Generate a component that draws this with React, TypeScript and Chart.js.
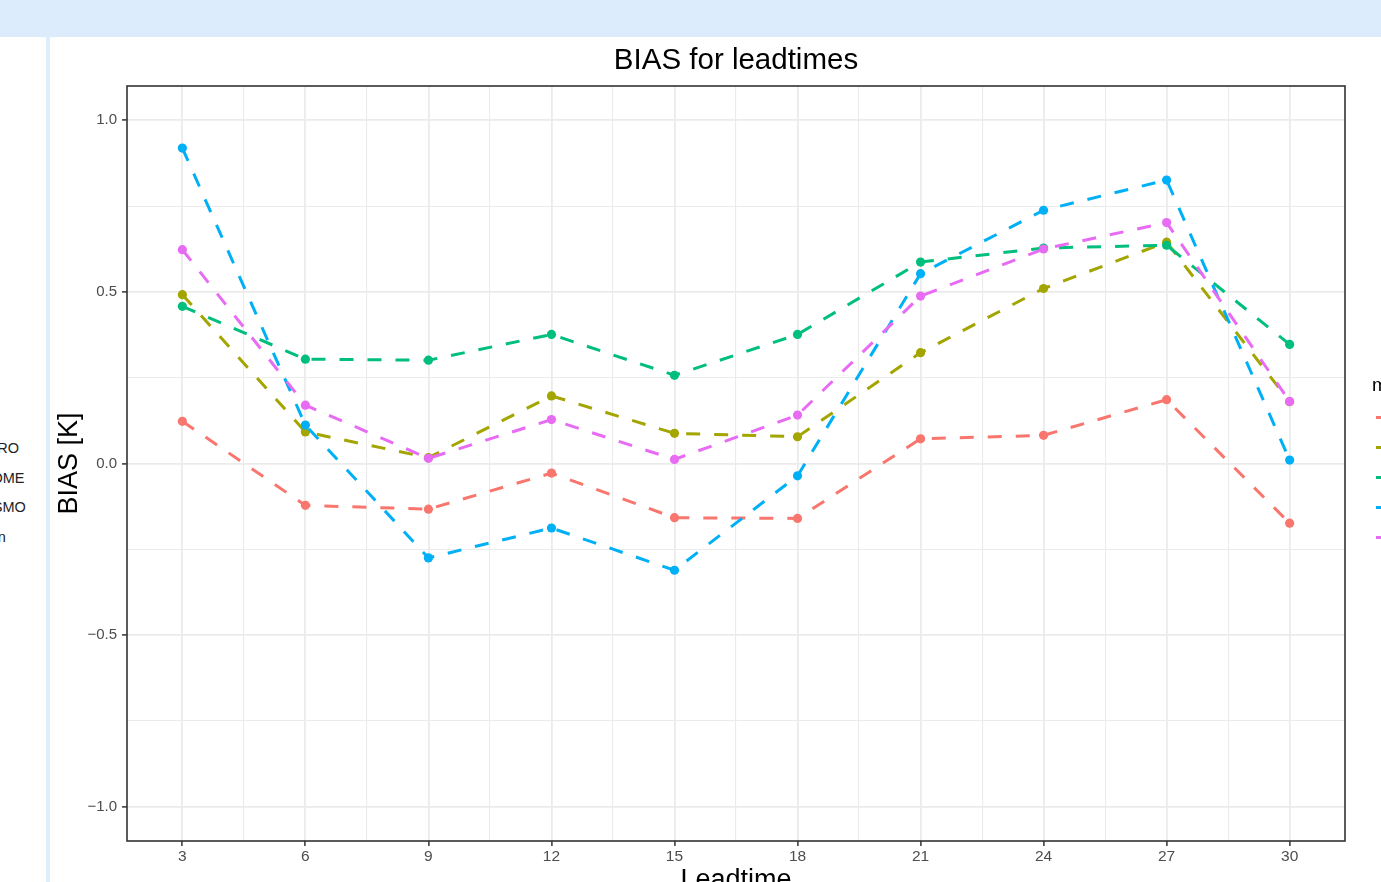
import React, { useEffect, useRef } from "react";
import { Chart, registerables } from "chart.js";

Chart.register(...registerables);

// ---- data ----
const leadtimes = [3, 6, 9, 12, 15, 18, 21, 24, 27, 30];
const seriesNames = ["ECMWF", "ALARO", "AROME", "COSMO", "mean"];
const seriesRed = [0.123, -0.122, -0.133, -0.028, -0.158, -0.16, 0.072, 0.082, 0.186, -0.174];
const seriesOlive = [0.492, 0.092, 0.017, 0.197, 0.088, 0.078, 0.323, 0.51, 0.645, 0.18];
const seriesGreen = [0.458, 0.304, 0.301, 0.376, 0.257, 0.376, 0.587, 0.628, 0.636, 0.347];
const seriesBlue = [0.919, 0.112, -0.275, -0.188, -0.311, -0.036, 0.553, 0.738, 0.826, 0.01];
const seriesPink = [0.623, 0.17, 0.015, 0.128, 0.012, 0.141, 0.488, 0.625, 0.702, 0.181];
const seriesColors = ["#F8766D", "#A3A500", "#00BF7D", "#00B0F6", "#E76BF3"];

const xMajorTicks = [3, 6, 9, 12, 15, 18, 21, 24, 27, 30];
const xMinorTicks = [4.5, 7.5, 10.5, 13.5, 16.5, 19.5, 22.5, 25.5, 28.5];
const yMajorTicks = [-1, -0.5, 0, 0.5, 1];
const yTickLabels = ["\u22121.0", "\u22120.5", "0.0", "0.5", "1.0"];
const yMinorTicks = [-0.75, -0.25, 0.25, 0.75];
const sidebarLabels = ["ALARO", "AROME", "COSMO", "mean"];

const FONT = "'Liberation Sans', Arial, Helvetica, sans-serif";

const panelBorder = {
  id: "panelBorder",
  afterDatasetsDraw(chart: any) {
    const { ctx, chartArea } = chart;
    ctx.save();
    ctx.strokeStyle = "#333333";
    ctx.lineWidth = 1.6;
    ctx.strokeRect(chartArea.left, chartArea.top, chartArea.right - chartArea.left, chartArea.bottom - chartArea.top);
    ctx.restore();
  },
};

export default function App() {
  const ref = useRef<HTMLCanvasElement | null>(null);

  useEffect(() => {
    if (!ref.current) return;
    const all = [seriesRed, seriesOlive, seriesGreen, seriesBlue, seriesPink];
    const datasets = all.map((vals, i) => ({
      label: seriesNames[i],
      data: leadtimes.map((x, j) => ({ x, y: vals[j] })),
      borderColor: seriesColors[i],
      backgroundColor: seriesColors[i],
      pointBackgroundColor: seriesColors[i],
      pointBorderWidth: 0,
      pointRadius: 4.6,
      pointHoverRadius: 4.6,
      borderWidth: 3,
      borderDash: [14, 14],
      borderCapStyle: "butt" as const,
      tension: 0,
      fill: false,
      order: all.length - i,
    }));

    const isXMajor = (v: number) => xMajorTicks.includes(v);
    const isYMajor = (v: number) => yMajorTicks.includes(v);

    const chart = new Chart(ref.current, {
      type: "line",
      data: { datasets },
      plugins: [panelBorder],
      options: {
        animation: false,
        responsive: false,
        devicePixelRatio: 1,
        layout: { padding: { left: 0, right: 105, top: 0, bottom: 0 }, autoPadding: false },
        plugins: {
          legend: { display: false },
          tooltip: { enabled: false },
          title: {
            display: true,
            text: "BIAS for leadtimes",
            color: "#000000",
            fullSize: false,
            font: { family: FONT, size: 29.5, weight: "normal" },
            padding: { top: 6.4, bottom: 7.2 },
          },
        },
        scales: {
          x: {
            type: "linear",
            min: 1.65,
            max: 31.35,
            afterBuildTicks: (s: any) => {
              s.ticks = [...xMajorTicks, ...xMinorTicks].sort((a, b) => a - b).map((v) => ({ value: v }));
            },
            afterFit: (s: any) => {
              s.height = 96;
            },
            ticks: {
              autoSkip: false,
              maxRotation: 0,
              padding: 1.5,
              color: "#4D4D4D",
              font: { family: FONT, size: 15.5 },
              callback: (v: any) => (isXMajor(Number(v)) ? String(v) : ""),
            },
            grid: {
              color: "#EBEBEB",
              lineWidth: (c: any) => (isXMajor(c.tick.value) ? 1.8 : 1.1),
              tickLength: 5,
              tickWidth: 1.5,
              tickColor: (c: any) => (isXMajor(c.tick.value) ? "#333333" : "rgba(0,0,0,0)"),
            },
            border: { display: false },
            title: {
              display: true,
              text: "Leadtime",
              color: "#000000",
              font: { family: FONT, size: 27 },
              padding: { top: 0, bottom: 40.6 },
            },
          },
          y: {
            type: "linear",
            min: -1.1,
            max: 1.1,
            afterBuildTicks: (s: any) => {
              s.ticks = [...yMajorTicks, ...yMinorTicks].sort((a, b) => a - b).map((v) => ({ value: v }));
            },
            afterFit: (s: any) => {
              s.width = 77;
            },
            ticks: {
              autoSkip: false,
              padding: 5,
              color: "#4D4D4D",
              font: { family: FONT, size: 15 },
              callback: (v: any) => {
                const k = yMajorTicks.indexOf(Number(v));
                return k >= 0 ? yTickLabels[k] : "";
              },
            },
            grid: {
              color: "#EBEBEB",
              lineWidth: (c: any) => (isYMajor(c.tick.value) ? 1.8 : 1.1),
              tickLength: 5,
              tickWidth: 1.5,
              tickColor: (c: any) => (isYMajor(c.tick.value) ? "#333333" : "rgba(0,0,0,0)"),
            },
            border: { display: false },
            title: {
              display: true,
              text: "BIAS [K]",
              color: "#000000",
              font: { family: FONT, size: 27 },
              padding: { top: 3.8, bottom: 0 },
            },
          },
        },
      },
    } as any);
    return () => chart.destroy();
  }, []);

  const legendYs = [417.3, 447.3, 477.3, 507, 537];
  const sideYs = [447.5, 477.5, 507, 537];
  const sideEnds = [19, 24.5, 25.8, 5.8];

  return (
    <div
      style={{
        position: "fixed",
        left: 0,
        top: 0,
        width: 1381,
        height: 882,
        overflow: "hidden",
        background: "#ffffff",
        fontFamily: FONT,
      }}
    >
      <div style={{ position: "absolute", left: 0, top: 0, width: 1381, height: 37, background: "#DCECFD" }} />
      <div style={{ position: "absolute", left: 46, top: 37, width: 4, height: 845, background: "#DFEEFD" }} />
      {sidebarLabels.map((t, i) => (
        <div
          key={t}
          style={{
            position: "absolute",
            right: 1381 - sideEnds[i],
            top: sideYs[i] - 10,
            height: 20,
            lineHeight: "20px",
            fontSize: 14.5,
            color: "#222222",
            whiteSpace: "nowrap",
          }}
        >
          {t}
        </div>
      ))}
      <canvas
        ref={ref}
        width={1400}
        height={900}
        style={{ position: "absolute", left: 50, top: 37, width: 1400, height: 900, display: "block" }}
      />
      <div
        style={{
          position: "absolute",
          left: 1372,
          top: 385 - 12,
          height: 24,
          lineHeight: "24px",
          fontSize: 19,
          color: "#000000",
          whiteSpace: "nowrap",
        }}
      >
        model
      </div>
      {seriesColors.map((c, i) => (
        <div
          key={c}
          style={{
            position: "absolute",
            left: 1375.7,
            top: legendYs[i] - 1.5,
            width: 14,
            height: 3,
            background: c,
          }}
        />
      ))}
    </div>
  );
}
